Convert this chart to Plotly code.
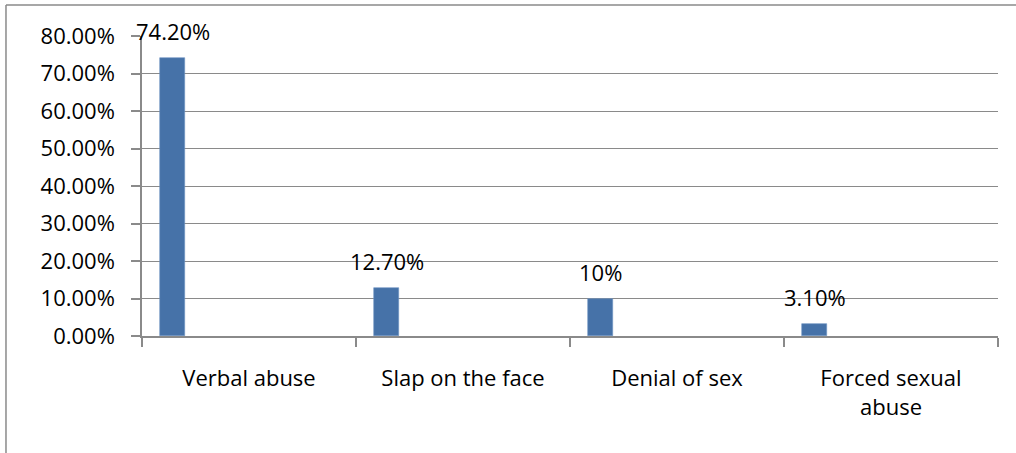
import plotly.graph_objects as go

categories = ["Verbal abuse", "Slap on the face", "Denial of sex", "Forced sexual<br>abuse"]
values = [0.742, 0.127, 0.10, 0.031]
value_labels = ["74.20%", "12.70%", "10%", "3.10%"]
y_ticks = [0, 0.1, 0.2, 0.3, 0.4, 0.5, 0.6, 0.7, 0.8]

BAR_OFFSET = -0.416
BAR_WIDTH = 0.117
GRAY = "#8A8A8A"
FONT = "Open Sans"

fig = go.Figure()
fig.add_trace(go.Bar(
    x=categories, y=values,
    offset=BAR_OFFSET, width=BAR_WIDTH,
    marker=dict(color="#4672A8", line=dict(color="#6F93C2", width=0.6)),
    hoverinfo="skip",
))

for i, (v, lab) in enumerate(zip(values, value_labels)):
    fig.add_annotation(
        x=i + BAR_OFFSET + BAR_WIDTH / 2, y=v, xref="x", yref="y",
        text=lab, showarrow=False, yshift=27,
        font=dict(family=FONT, size=22, color="black"),
    )

# outer frame (left and top edges visible)
fig.add_shape(type="line", xref="paper", yref="paper",
              x0=-0.1589, x1=-0.1589, y0=1.1033, y1=-0.5,
              line=dict(color=GRAY, width=1.5))
fig.add_shape(type="line", xref="paper", yref="paper",
              x0=-0.1589, x1=1.2, y0=1.1033, y1=1.1033,
              line=dict(color=GRAY, width=1.5))

fig.update_layout(
    width=1016, height=453,
    margin=dict(l=142, r=18, t=36, b=117),
    paper_bgcolor="white", plot_bgcolor="white",
    showlegend=False,
    font=dict(family=FONT, size=22, color="black"),
    bargap=0,
)
fig.update_xaxes(
    type="category", tickson="boundaries",
    showline=True, linecolor=GRAY, linewidth=1.5,
    ticks="outside", ticklen=9, tickcolor=GRAY, tickwidth=1.5,
    showgrid=False, ticklabelstandoff=22,
    tickfont=dict(family=FONT, size=22, color="black"),
    range=[-0.5, 3.5],
)
fig.update_yaxes(
    range=[0, 0.8], tickvals=y_ticks, tickformat=".2%",
    showline=True, linecolor=GRAY, linewidth=1.5,
    ticks="outside", ticklen=9, tickcolor=GRAY, tickwidth=1.5,
    showgrid=True, gridcolor=GRAY, gridwidth=1.2,
    zeroline=False, ticklabelstandoff=12,
    tickfont=dict(family=FONT, size=22, color="black"),
)

fig.write_html("out.html", config={"displayModeBar": False},
               post_script="document.body.style.margin='0';")
